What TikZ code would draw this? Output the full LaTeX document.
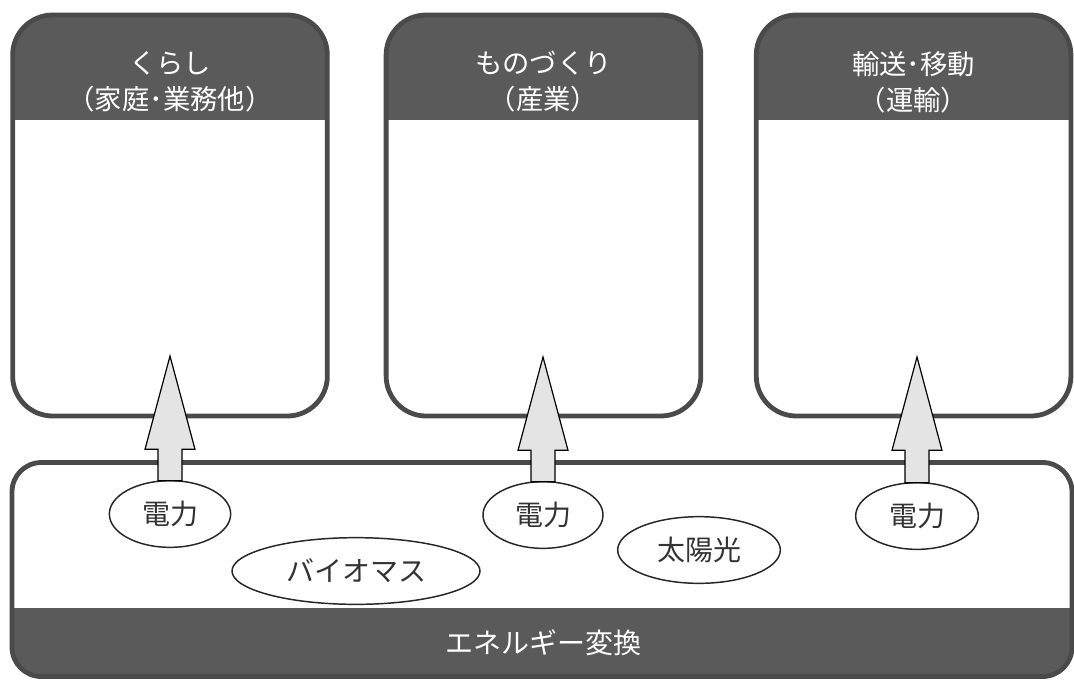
\documentclass[tikz,border=0pt]{standalone}
\usepackage{fontspec}
\setmainfont{Noto Sans CJK JP}
\usepackage{tikz}
\usetikzlibrary{positioning,calc,shapes.geometric}
\usepackage{xcolor}

\definecolor{bandgray}{HTML}{5A5A5A}
\definecolor{rimgray}{HTML}{4A4A4A}
\definecolor{arrowgray}{HTML}{E4E4E4}

% block arrow from an ellipse up to a tip coordinate
\newcommand\liftarrow[2]{%
    \draw[fatarrow] let \p1=(#1.north), \p2=(#2) in
        (\x1-9pt,\y1) -- (\x1-9pt,\y2-70pt) -- (\x1-18.75pt,\y2-70pt) -- (\x2,\y2)
        -- (\x1+18.75pt,\y2-70pt) -- (\x1+9pt,\y2-70pt) -- (\x1+9pt,\y1) -- cycle;
}

\begin{document}
\begin{tikzpicture}[
    x=0.75pt, y=-0.75pt,
    sector/.style={
        rectangle,
        rounded corners=30pt,
        draw=rimgray,
        line width=3.6pt,
        fill=white,
        minimum width=236pt,
        minimum height=300.75pt,
        path picture={\fill[bandgray, sharp corners] (path picture bounding box.north west)
            rectangle ([yshift=-78.75pt]path picture bounding box.north east);}
    },
    base/.style={
        rectangle,
        rounded corners=22pt,
        draw=rimgray,
        line width=3.6pt,
        fill=white,
        minimum width=795pt,
        minimum height=160.5pt,
        path picture={\fill[bandgray, sharp corners] (path picture bounding box.south west)
            rectangle ([yshift=51.4pt]path picture bounding box.south east);}
    },
    headtext/.style={
        align=center,
        text=white,
        font=\fontsize{20.5pt}{27pt}\selectfont
    },
    bandtext/.style={
        text=white,
        font=\fontsize{21pt}{25pt}\selectfont
    },
    source/.style={
        ellipse,
        draw=black!85,
        line width=1.1pt,
        fill=white,
        inner sep=0pt,
        outer sep=0pt,
        minimum height=50pt,
        text=black!80,
        font=\fontsize{21pt}{25pt}\selectfont
    },
    fatarrow/.style={draw=black, fill=arrowgray, line width=0.9pt, line join=miter}
]

\useasboundingbox (0,0) rectangle (1074,679);

\node[sector] (home) at (170,215.5) {};
\node[sector, right=40.5pt of home] (make) {};
\node[sector, right=38pt of make] (move) {};

\node[headtext] (homeH) at ([yshift=-52pt]home.north) {くらし\\（家庭･業務他）};
\node[headtext] (makeH) at ([yshift=-52pt]make.north) {ものづくり\\（産業）};
\node[headtext] (moveH) at ([yshift=-52pt]move.north) {輸送･移動\\（運輸）};

\node[base] (panel) at (542,569.5) {};
\node[bandtext] (conv) at ([xshift=1pt,yshift=27pt]panel.south) {エネルギー変換};

\node[source, minimum width=91pt] (pwrHome) at (170,514) {電力};
\node[source, minimum width=90pt] (pwrMake) at (543,515) {電力};
\node[source, minimum width=92pt] (pwrMove) at (917,516) {電力};
\node[source, minimum width=186pt] (bio) at (356,571) {バイオマス};
\node[source, minimum width=122pt] (solar) at (699,550) {太陽光};

\coordinate (tipHome) at (170,356);
\coordinate (tipMake) at (543,357);
\coordinate (tipMove) at (917,357);

\liftarrow{pwrHome}{tipHome}
\liftarrow{pwrMake}{tipMake}
\liftarrow{pwrMove}{tipMove}

\end{tikzpicture}
\end{document}
